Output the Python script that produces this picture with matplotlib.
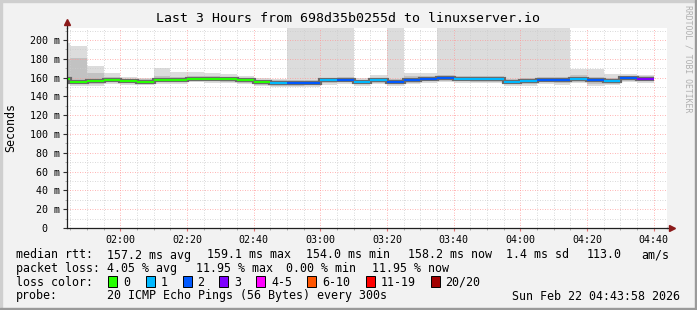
import matplotlib.pyplot as plt
import numpy as np
import pandas as pd
from matplotlib.patches import Rectangle

W, H = 697, 310
MONO = "DejaVu Sans Mono"

title = "Last 3 Hours from 698d35b0255d to linuxserver.io"

# 5 minute steps, timestamp = end of step
step_end = pd.date_range("2026-02-22 01:45", "2026-02-22 04:40", freq="5min")
t_end = step_end.hour * 60 + step_end.minute

# median rtt (ms) per step
median = [158.5, 155.5, 156.0, 157.8, 156.5, 155.8, 157.3, 157.3, 158.9, 158.9,
          158.5, 157.0, 155.0, 154.5, 154.3, 154.3, 157.0, 157.8, 155.6, 157.3,
          155.5, 157.3, 159.0, 159.5, 158.7, 158.3, 158.3, 155.8, 156.0, 157.9,
          157.9, 158.9, 157.1, 156.5, 159.1, 158.2]
# smoke: slowest / fastest ping and inner band
ping_max = [197.0, 193.6, 172.5, 165.2, 161.0, 160.0, 170.0, 166.3, 166.3, 165.0,
            163.8, 161.7, 160.0, 159.0, 250.0, 250.0, 250.0, 250.0, 159.2, 162.8,
            250.0, 164.5, 164.5, 250.0, 250.0, 250.0, 250.0, 250.0, 250.0, 250.0,
            250.0, 168.8, 168.8, 163.5, 163.5, 162.8]
ping_hi = [180.0, 180.5, 164.5, 161.0, 159.0, 158.5, 162.0, 161.0, 162.0, 161.5,
           161.0, 160.0, 158.0, 157.5, 158.0, 158.0, 160.0, 161.0, 158.0, 160.0,
           159.0, 161.5, 162.0, 163.0, 162.0, 161.5, 161.5, 159.0, 159.5, 161.0,
           161.0, 163.0, 161.0, 160.0, 162.0, 162.0]
ping_lo = [155.0, 153.0, 153.0, 155.0, 154.0, 153.5, 155.0, 155.0, 156.5, 156.0,
           155.5, 154.5, 152.5, 151.5, 151.5, 152.0, 154.0, 155.0, 153.0, 154.5,
           153.0, 154.5, 156.0, 156.5, 156.0, 155.5, 155.5, 153.0, 153.0, 155.0,
           154.5, 155.5, 153.0, 153.5, 156.5, 156.0]
ping_min = [153.0, 151.5, 151.0, 153.5, 152.5, 152.0, 153.5, 153.5, 155.0, 154.5,
            154.0, 153.0, 151.0, 150.0, 150.0, 150.5, 152.5, 153.0, 151.5, 153.0,
            151.0, 153.0, 154.5, 155.0, 154.5, 154.0, 154.0, 151.5, 151.5, 153.0,
            152.5, 154.0, 151.0, 152.0, 155.0, 154.5]
# lost pings per step (of 20)
loss = [0, 0, 0, 0, 0, 0, 0, 0, 0, 0, 0, 0, 0, 1, 2, 2, 1, 2, 1, 1,
        2, 2, 2, 2, 1, 1, 1, 1, 1, 2, 2, 1, 2, 1, 2, 3]

loss_labels = ["0", "1", "2", "3", "4-5", "6-10", "11-19", "20/20"]
loss_colors = ["#26ff00", "#00b8ff", "#0059ff", "#7e00ff", "#ff00fe",
               "#ff5500", "#ff0000", "#a10000"]

x_ticks = ["02:00", "02:20", "02:40", "03:00", "03:20", "03:40", "04:00", "04:20", "04:40"]
x_start, x_end = 103 + 58 / 60, 283 + 58 / 60  # 01:43:58 .. 04:43:58

row_rtt = [(16, "median rtt:"), (107, "157.2 ms avg"), (207, "159.1 ms max"),
           (306.5, "154.0 ms min"), (408, "158.2 ms now"), (506.5, "1.4 ms sd"),
           (586.5, "113.0"), (641.5, "am/s")]
row_loss = [(16, "packet loss:"), (107, "4.05 % avg"), (196.5, "11.95 % max"),
            (286.5, "0.00 % min"), (372.5, "11.95 % now")]
box_x = [108, 145.5, 182.5, 219, 256, 307, 365.5, 430.5]
probe = "20 ICMP Echo Pings (56 Bytes) every 300s"
stamp = "Sun Feb 22 04:43:58 2026"

fig = plt.figure(figsize=(W / 100, H / 100), dpi=100, facecolor="#f2f2f2")
ax = fig.add_axes([67 / W, 82 / H, 600 / W, 200 / H])
ax.set_facecolor("white")

edges = np.concatenate([[t_end[0] - 5], t_end])
ax.stairs(ping_max, edges, baseline=ping_min, fill=True, color="#dcdcdc", zorder=1)
ax.stairs(ping_hi, edges, baseline=ping_lo, fill=True, color="#c2c2c2", zorder=1.1)
ax.stairs(median, edges, baseline=None, color="#6a6a6a", lw=3.0, zorder=3)
ax.hlines(median, edges[:-1], edges[1:], colors=[loss_colors[l] for l in loss],
          lw=1.5, zorder=3.1)

ax.set_xlim(x_start, x_end)
ax.set_ylim(0, 212.8)

ax.set_xticks(np.arange(120, 281, 20))
ax.set_xticklabels(x_ticks)
ax.set_xticks(np.arange(105, 284, 5), minor=True)
ax.set_yticks(np.arange(0, 201, 20))
ax.set_yticklabels(["0  "] + [f"{v} m" for v in range(20, 201, 20)])
ax.set_yticks(np.arange(10, 211, 10), minor=True)

ax.set_axisbelow(False)
ax.grid(which="major", color="#ff9999", lw=0.6, ls=(0, (1, 2)))
ax.grid(which="minor", color="#cccccc", lw=0.6, ls=(0, (1, 2)))

for lab in ax.get_xticklabels() + ax.get_yticklabels():
    lab.set_family(MONO)
    lab.set_fontsize(7.2)
ax.tick_params(axis="y", which="major", length=2.9, width=0.8, pad=2.2, color="#303030")
ax.tick_params(axis="y", which="minor", length=1.5, width=0.6, color="#a0a0a0")
ax.tick_params(axis="x", which="major", length=2.2, width=0.8, pad=2.5, color="#e07070")
ax.tick_params(axis="x", which="minor", length=1.5, width=0.6, color="#a0a0a0")

for s in ["top", "right"]:
    ax.spines[s].set_visible(False)
for s in ["left", "bottom"]:
    ax.spines[s].set_color("#202020")
    ax.spines[s].set_linewidth(0.9)
    ax.spines[s].set_zorder(4)

# axis arrows
arrow = "#8b1a1a"
ax.plot([0, 0], [1, 1.03], transform=ax.transAxes, color="#202020", lw=0.9, clip_on=False)
ax.plot([0], [1.03], transform=ax.transAxes, marker="^", ms=4.5, color=arrow, clip_on=False)
ax.plot([1, 1.008], [0, 0], transform=ax.transAxes, color="#202020", lw=0.9, clip_on=False)
ax.plot([1.008], [0], transform=ax.transAxes, marker=">", ms=4.5, color=arrow, clip_on=False)

fig.text(348 / W, 1 - 19 / H, title, ha="center", va="center", family=MONO, fontsize=9.5)
fig.text(11 / W, 1 - 127 / H, "Seconds", rotation=90, ha="center", va="center",
         family=MONO, fontsize=8.4)
fig.text(688 / W, 1 - 5 / H, "RRDTOOL / TOBI OETIKER", rotation=270, ha="center",
         va="top", family=MONO, fontsize=5.9, color="#b0b0b0")

rows_y = [255, 268.3, 282.3, 296]
for x, s in row_rtt:
    fig.text(x / W, 1 - rows_y[0] / H, s, va="center", family=MONO, fontsize=8.4)
for x, s in row_loss:
    fig.text(x / W, 1 - rows_y[1] / H, s, va="center", family=MONO, fontsize=8.4)
fig.text(16 / W, 1 - rows_y[2] / H, "loss color:", va="center", family=MONO, fontsize=8.4)
for bx, lab, col in zip(box_x, loss_labels, loss_colors):
    fig.add_artist(Rectangle((bx / W, 1 - 286.5 / H), 9 / W, 10.5 / H,
                             transform=fig.transFigure, facecolor=col,
                             edgecolor="black", lw=0.7))
    fig.text((bx + 15) / W, 1 - rows_y[2] / H, lab, va="center", family=MONO, fontsize=8.4)
fig.text(16 / W, 1 - rows_y[3] / H, "probe:", va="center", family=MONO, fontsize=8.4)
fig.text(107 / W, 1 - rows_y[3] / H, probe, va="center", family=MONO, fontsize=8.4)
fig.text(680 / W, 1 - rows_y[3] / H, stamp, ha="right", va="center", family=MONO, fontsize=8.4)

# 3d frame of the canvas
shade_a, shade_b = "#cfcfcf", "#9a9a9a"
fig.add_artist(Rectangle((0, 1 - 2 / H), 1, 2 / H, transform=fig.transFigure, color=shade_a))
fig.add_artist(Rectangle((0, 0), 2 / W, 1, transform=fig.transFigure, color=shade_a))
fig.add_artist(Rectangle((0, 0), 1, 2 / H, transform=fig.transFigure, color=shade_b))
fig.add_artist(Rectangle((1 - 2 / W, 0), 2 / W, 1, transform=fig.transFigure, color=shade_b))

fig.savefig("out.png", dpi=100, facecolor=fig.get_facecolor())
